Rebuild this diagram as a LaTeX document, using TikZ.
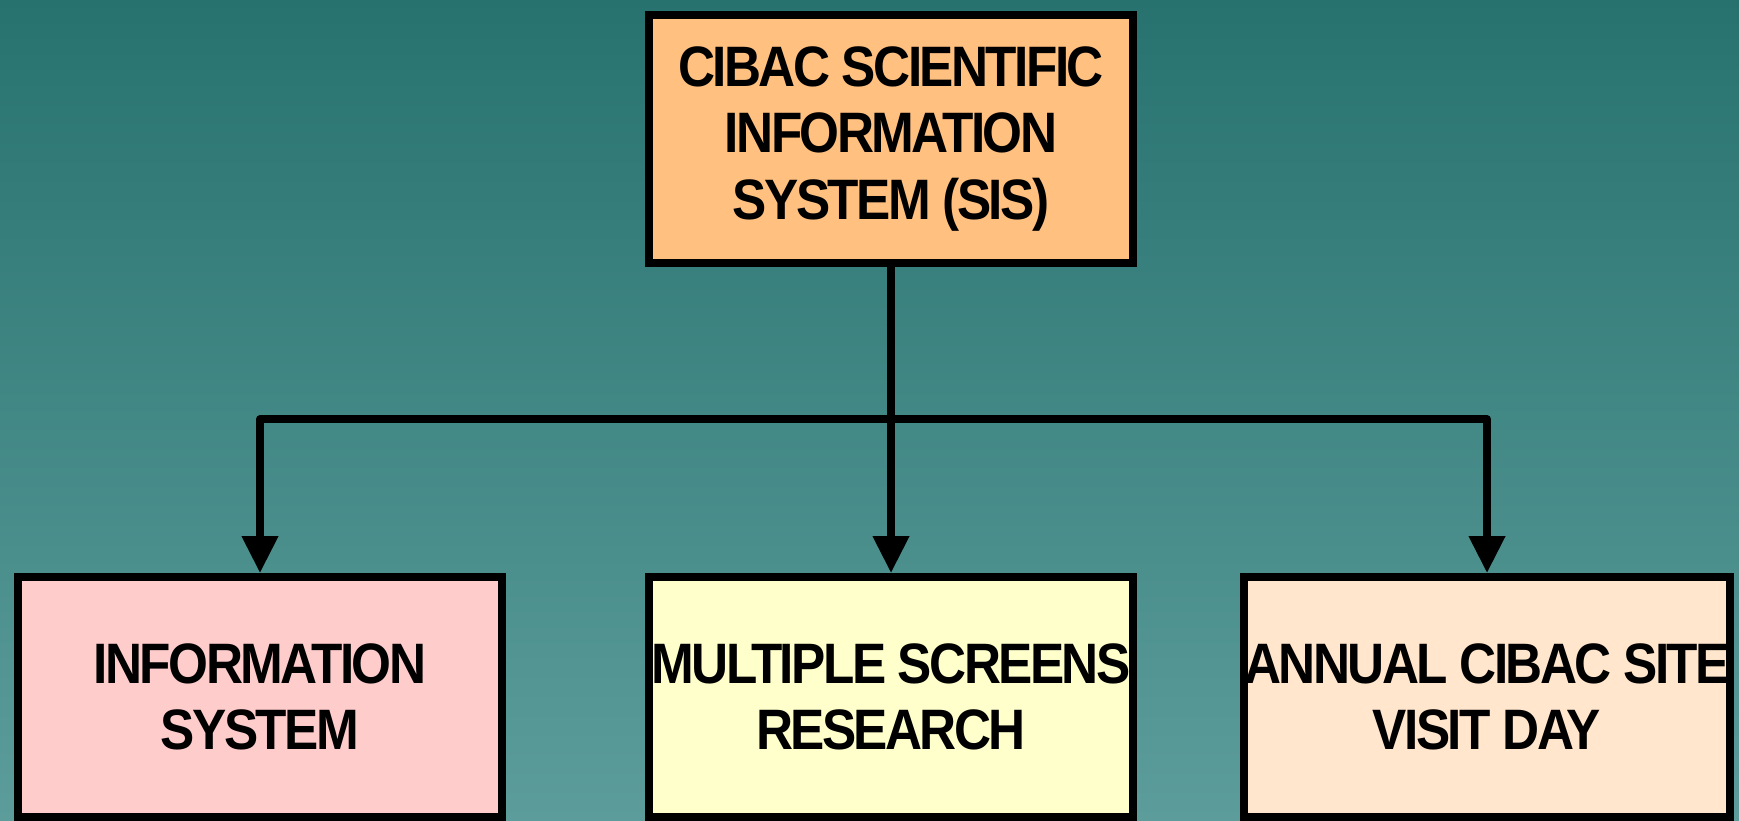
\documentclass[tikz,border=0pt]{standalone}
\usepackage{fontspec}
\newfontfamily\boxfont{Liberation Sans}[FakeStretch=0.9,LetterSpace=-4.5]
\usetikzlibrary{arrows.meta}
\definecolor{bgtop}{RGB}{39,114,111}
\definecolor{bgbot}{RGB}{92,157,155}
\definecolor{fillTop}{RGB}{255,192,128}
\definecolor{fillA}{RGB}{255,204,204}
\definecolor{fillB}{RGB}{255,255,204}
\definecolor{fillC}{RGB}{255,230,204}
\tikzset{
  boxstyle/.style={draw=black, line width=8pt, inner sep=0pt, align=center,
    minimum width=484pt, font=\boxfont\bfseries\fontsize{57}{66.5}\selectfont},
  conn/.style={draw=black, line width=7.5pt, line join=round,
    -{Triangle[width=35pt,length=37pt]}}
}
\begin{document}
\begin{tikzpicture}[x=1pt,y=-1pt]
\useasboundingbox (0,0) rectangle (1739,821);
\shade[top color=bgtop, bottom color=bgbot] (0,0) rectangle (1739,821);
\node[boxstyle, fill=fillTop, minimum height=248pt] (top) at (891,139)
  {CIBAC SCIENTIFIC\\INFORMATION\\SYSTEM (SIS)};
\node[boxstyle, fill=fillA, minimum height=240pt] (b1) at (260,697)
  {INFORMATION\\SYSTEM};
\node[boxstyle, fill=fillB, minimum height=240pt] (b2) at (891,697)
  {MULTIPLE SCREENS\\RESEARCH};
\node[boxstyle, fill=fillC, minimum height=240pt] (b3) at (1487,697)
  {ANNUAL CIBAC SITE\\VISIT DAY};
\coordinate (bar) at (891,419);
\draw[conn] (top.south) -- (top.south |- bar) -| (b1.north);
\draw[conn] (top.south) -- (top.south |- bar) -| (b3.north);
\draw[conn] (top.south) -- (b2.north);
\end{tikzpicture}
\end{document}
